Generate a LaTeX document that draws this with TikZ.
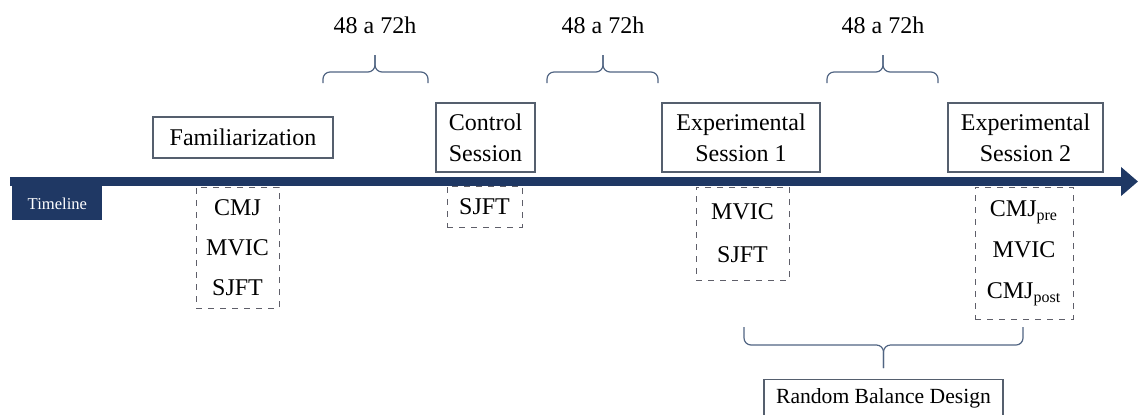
\documentclass[tikz,border=0pt]{standalone}
\usepackage{fontspec}
\setmainfont{Liberation Serif}
\usetikzlibrary{arrows.meta}

\definecolor{navy}{RGB}{31,56,100}
\definecolor{boxline}{RGB}{85,95,110}
\definecolor{dashline}{RGB}{95,95,105}
\definecolor{braceline}{RGB}{80,100,130}

\begin{document}
\begin{tikzpicture}[
    x=0.5pt, y=-0.5pt,
    session/.style={draw=boxline, line width=0.6pt, align=center, inner sep=0pt,
                    font=\fontsize{12}{15.5}\selectfont},
    tests/.style={draw=dashline, dashed, line width=0.5pt, align=center, inner sep=0pt,
                  font=\fontsize{12}{20}\selectfont},
    gap/.style={braceline, line width=0.6pt, rounded corners=3.5pt},
    gaplabel/.style={font=\fontsize{12}{14}\selectfont},
]
    % Frame of the figure
    \clip (0,0) rectangle (1138,414);

    % Timeline arrow
    \coordinate (tstart) at (10,181.5);
    \coordinate (tend) at (1138,181.5);
    \draw[navy, line width=4.5pt, -{Triangle[length=8.5pt, width=14pt]}] (tstart) -- (tend);
    \node[fill=navy, text=white, anchor=north west, minimum width=45pt, minimum height=17pt,
          inner sep=0pt, font=\fontsize{8.3}{10}\selectfont] (tlabel) at (12,186) {Timeline};

    % Sessions above the timeline
    \node[session, minimum width=90pt, minimum height=20.5pt] (famil) at (243,137.5) {Familiarization};
    \node[session, minimum width=49.5pt, minimum height=34.5pt] (control) at (485.5,137.5) {Control\\Session};
    \node[session, minimum width=79pt, minimum height=34.5pt] (exp1) at (741,137.5) {Experimental\\Session 1};
    \node[session, minimum width=77.5pt, minimum height=34.5pt] (exp2) at (1025.5,137.5) {Experimental\\Session 2};

    % Tests below the timeline
    \node[tests, minimum width=41.5pt, minimum height=60.5pt] (famtests) at (237.5,247.5) {CMJ\\MVIC\\SJFT};
    \node[tests, minimum width=37.5pt, minimum height=20.5pt] (ctrltests) at (484.5,206.5) {SJFT};
    \node[tests, minimum width=46.5pt, minimum height=46.5pt,
          font=\fontsize{12}{21.5}\selectfont] (exp1tests) at (742.5,233.5) {MVIC\\SJFT};
    \node[tests, minimum width=49pt, minimum height=66pt,
          font=\fontsize{12}{20.5}\selectfont] (exp2tests) at (1024,253)
          {CMJ\textsubscript{pre}\\MVIC\\CMJ\textsubscript{post}};

    % Rest between sessions (braces)
    \draw[gap] (323,83) -- (323,72) -- (375,72) -- (375,55);
    \draw[gap] (428,83) -- (428,72) -- (375,72) -- (375,55);
    \draw[gap] (547,83) -- (547,72) -- (603,72) -- (603,55);
    \draw[gap] (658,83) -- (658,72) -- (603,72) -- (603,55);
    \draw[gap] (827,83) -- (827,72) -- (883,72) -- (883,55);
    \draw[gap] (938,83) -- (938,72) -- (883,72) -- (883,55);
    \node[gaplabel] (gap1) at (375,25) {48 a 72h};
    \node[gaplabel] (gap2) at (603,25) {48 a 72h};
    \node[gaplabel] (gap3) at (883,25) {48 a 72h};

    % Order of the experimental sessions
    \draw[gap] (744,327) -- (744,345) -- (883.5,345) -- (883.5,368);
    \draw[gap] (1023,327) -- (1023,345) -- (883.5,345) -- (883.5,368);
    \node[session, anchor=north, minimum width=119.5pt, minimum height=19pt,
          font=\fontsize{10.8}{13}\selectfont] (design) at (883.5,379)
        {Random Balance Design};
\end{tikzpicture}
\end{document}
